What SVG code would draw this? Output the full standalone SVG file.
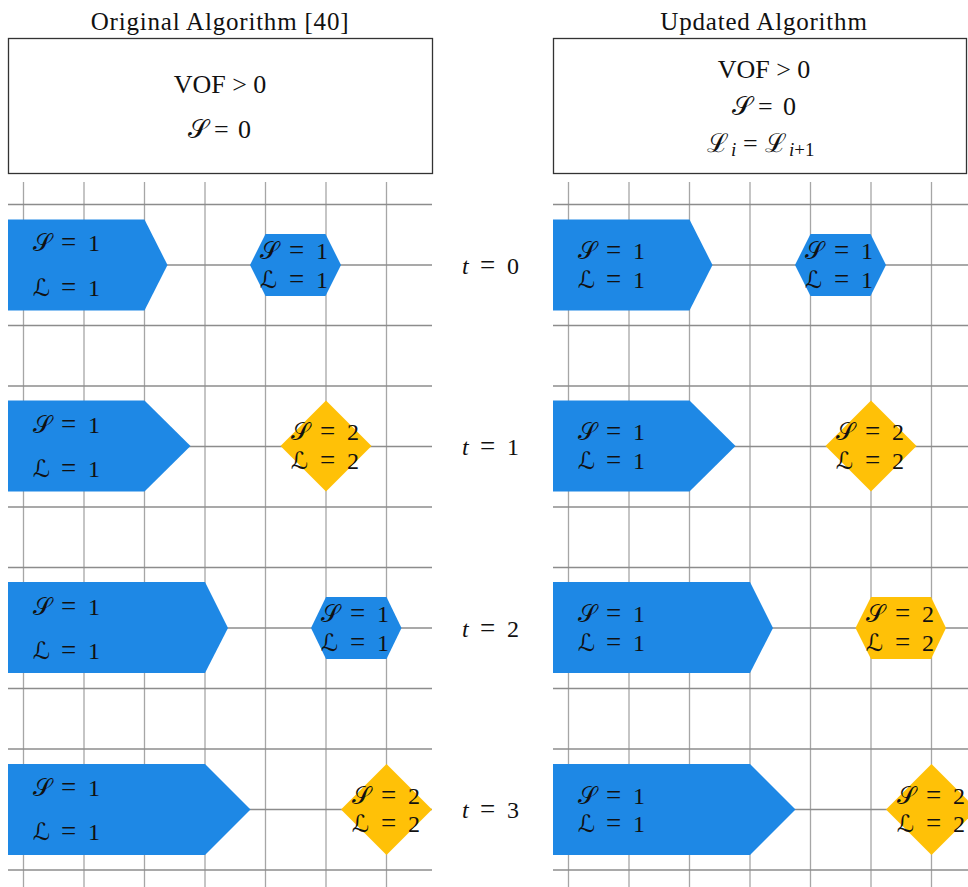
<svg xmlns="http://www.w3.org/2000/svg" width="968" height="887" viewBox="0 0 968 887">
<style>
.bg{fill:#fff}
.gv{stroke:#a6a6a6;stroke-width:1.3}
.gh{stroke:#8c8c8c;stroke-width:1.3}
.box{fill:#fff;stroke:#333;stroke-width:1.3}
.blue{fill:#1e88e5}
.amber{fill:#ffc107}
.title{font-family:"Liberation Serif","DejaVu Serif",serif;font-size:25px;letter-spacing:0.8px;fill:#111;text-anchor:middle}
.bt{font-family:"Liberation Serif","DejaVu Serif",serif;font-size:26px;fill:#111}
.m{font-family:"Liberation Serif","DejaVu Serif","DejaVu Sans",serif;font-size:24px;fill:#111}
.n{font-family:"Liberation Serif",serif}
.eq{font-family:"Liberation Serif",serif;font-size:27px}
.t{font-family:"Liberation Serif","DejaVu Serif",serif;font-size:24px;fill:#111}
</style>
<rect class="bg" x="0" y="0" width="968" height="887"/>

<g id="titles">
<text class="title" x="220" y="29.5">Original Algorithm [40]</text>
<text class="title" x="764" y="29.5">Updated Algorithm</text>
</g>

<g id="box-original">
<rect class="box" x="8.5" y="38.5" width="424" height="135"/>
<text class="bt" x="220" y="93" text-anchor="middle">VOF &gt; 0</text>
<text class="bt" y="138"><tspan x="188">𝒮</tspan><tspan class="n" x="214">=</tspan><tspan class="n" x="238">0</tspan></text>
</g>
<g id="box-updated">
<rect class="box" x="553.5" y="38.5" width="413" height="135"/>
<text class="bt" x="764" y="78" text-anchor="middle">VOF &gt; 0</text>
<text class="bt" y="115"><tspan x="732">𝒮</tspan><tspan class="n" x="758">=</tspan><tspan class="n" x="783">0</tspan></text>
<text class="bt" y="152"><tspan x="707">ℒ</tspan><tspan class="n" font-style="italic" font-size="19" x="731" dy="4">i</tspan><tspan class="n" x="743" dy="-4">=</tspan><tspan x="765">ℒ</tspan><tspan class="n" font-size="19" x="789" dy="4"><tspan font-style="italic">i</tspan>+1</tspan></text>
</g>

<g id="grid">
<g id="grid-left-vertical">
<line class="gv" x1="23.5" y1="182" x2="23.5" y2="887"/>
<line class="gv" x1="84" y1="182" x2="84" y2="887"/>
<line class="gv" x1="144.5" y1="182" x2="144.5" y2="887"/>
<line class="gv" x1="205" y1="182" x2="205" y2="887"/>
<line class="gv" x1="265.5" y1="182" x2="265.5" y2="887"/>
<line class="gv" x1="326" y1="182" x2="326" y2="887"/>
<line class="gv" x1="386.5" y1="182" x2="386.5" y2="887"/>
</g>
<g id="grid-right-vertical">
<line class="gv" x1="568.5" y1="182" x2="568.5" y2="887"/>
<line class="gv" x1="629" y1="182" x2="629" y2="887"/>
<line class="gv" x1="689.5" y1="182" x2="689.5" y2="887"/>
<line class="gv" x1="750" y1="182" x2="750" y2="887"/>
<line class="gv" x1="810.5" y1="182" x2="810.5" y2="887"/>
<line class="gv" x1="871" y1="182" x2="871" y2="887"/>
<line class="gv" x1="931.5" y1="182" x2="931.5" y2="887"/>
</g>
<g id="grid-horizontal">
<line class="gh" x1="8" y1="204.5" x2="432" y2="204.5"/>
<line class="gh" x1="8" y1="265" x2="432" y2="265"/>
<line class="gh" x1="8" y1="325.5" x2="432" y2="325.5"/>
<line class="gh" x1="8" y1="386" x2="432" y2="386"/>
<line class="gh" x1="8" y1="446.5" x2="432" y2="446.5"/>
<line class="gh" x1="8" y1="507" x2="432" y2="507"/>
<line class="gh" x1="8" y1="567.5" x2="432" y2="567.5"/>
<line class="gh" x1="8" y1="628" x2="432" y2="628"/>
<line class="gh" x1="8" y1="688.5" x2="432" y2="688.5"/>
<line class="gh" x1="8" y1="749" x2="432" y2="749"/>
<line class="gh" x1="8" y1="809.5" x2="432" y2="809.5"/>
<line class="gh" x1="8" y1="870" x2="432" y2="870"/>
<line class="gh" x1="553" y1="204.5" x2="968" y2="204.5"/>
<line class="gh" x1="553" y1="265" x2="968" y2="265"/>
<line class="gh" x1="553" y1="325.5" x2="968" y2="325.5"/>
<line class="gh" x1="553" y1="386" x2="968" y2="386"/>
<line class="gh" x1="553" y1="446.5" x2="968" y2="446.5"/>
<line class="gh" x1="553" y1="507" x2="968" y2="507"/>
<line class="gh" x1="553" y1="567.5" x2="968" y2="567.5"/>
<line class="gh" x1="553" y1="628" x2="968" y2="628"/>
<line class="gh" x1="553" y1="688.5" x2="968" y2="688.5"/>
<line class="gh" x1="553" y1="749" x2="968" y2="749"/>
<line class="gh" x1="553" y1="809.5" x2="968" y2="809.5"/>
<line class="gh" x1="553" y1="870" x2="968" y2="870"/>
</g>
</g>

<g id="time-labels">
<text class="t" x="462" y="274"><tspan font-style="italic">t</tspan><tspan class="eq" x="480">=</tspan><tspan x="507">0</tspan></text>
<text class="t" x="462" y="455"><tspan font-style="italic">t</tspan><tspan class="eq" x="480">=</tspan><tspan x="507">1</tspan></text>
<text class="t" x="462" y="637"><tspan font-style="italic">t</tspan><tspan class="eq" x="480">=</tspan><tspan x="507">2</tspan></text>
<text class="t" x="462" y="818"><tspan font-style="italic">t</tspan><tspan class="eq" x="480">=</tspan><tspan x="507">3</tspan></text>
</g>

<!-- Original algorithm, t=0 -->
<g id="orig-t0-liquid">
<polygon class="blue" points="8,219.5 144.5,219.5 167.5,265 144.5,310.5 8,310.5"/>
<text class="m" y="251"><tspan x="33">𝒮</tspan><tspan class="eq" x="61">=</tspan><tspan class="n" x="88">1</tspan></text>
<text class="m" y="296"><tspan x="33">ℒ</tspan><tspan class="eq" x="61">=</tspan><tspan class="n" x="88">1</tspan></text>
</g>
<g id="orig-t0-drop">
<polygon class="blue" points="250,265 265.5,234 325.5,234 341,265 325.5,296 265.5,296"/>
<text class="m" y="258.5"><tspan x="260">𝒮</tspan><tspan class="eq" x="289">=</tspan><tspan class="n" x="316">1</tspan></text>
<text class="m" y="287.5"><tspan x="260">ℒ</tspan><tspan class="eq" x="289">=</tspan><tspan class="n" x="316">1</tspan></text>
</g>
<!-- t=1 -->
<g id="orig-t1-liquid">
<polygon class="blue" points="8,400.5 144.5,400.5 190.5,446 144.5,491.5 8,491.5"/>
<text class="m" y="432.5"><tspan x="33">𝒮</tspan><tspan class="eq" x="61">=</tspan><tspan class="n" x="88">1</tspan></text>
<text class="m" y="476.5"><tspan x="33">ℒ</tspan><tspan class="eq" x="61">=</tspan><tspan class="n" x="88">1</tspan></text>
</g>
<g id="orig-t1-drop">
<polygon class="amber" points="326,400.5 371.5,446 326,491.5 280.5,446"/>
<text class="m" y="439.5"><tspan x="291">𝒮</tspan><tspan class="eq" x="320">=</tspan><tspan class="n" x="347">2</tspan></text>
<text class="m" y="469"><tspan x="291">ℒ</tspan><tspan class="eq" x="320">=</tspan><tspan class="n" x="347">2</tspan></text>
</g>
<!-- t=2 -->
<g id="orig-t2-liquid">
<polygon class="blue" points="8,582 205,582 228,628 205,673 8,673"/>
<text class="m" y="614.5"><tspan x="33">𝒮</tspan><tspan class="eq" x="61">=</tspan><tspan class="n" x="88">1</tspan></text>
<text class="m" y="658.5"><tspan x="33">ℒ</tspan><tspan class="eq" x="61">=</tspan><tspan class="n" x="88">1</tspan></text>
</g>
<g id="orig-t2-drop">
<polygon class="blue" points="311,628 326,597 386.5,597 401.5,628 386.5,659 326,659"/>
<text class="m" y="621.5"><tspan x="321">𝒮</tspan><tspan class="eq" x="350">=</tspan><tspan class="n" x="377">1</tspan></text>
<text class="m" y="650.5"><tspan x="321">ℒ</tspan><tspan class="eq" x="350">=</tspan><tspan class="n" x="377">1</tspan></text>
</g>
<!-- t=3 -->
<g id="orig-t3-liquid">
<polygon class="blue" points="8,764 205,764 250.5,809.5 205,855 8,855"/>
<text class="m" y="795.5"><tspan x="33">𝒮</tspan><tspan class="eq" x="61">=</tspan><tspan class="n" x="88">1</tspan></text>
<text class="m" y="839.5"><tspan x="33">ℒ</tspan><tspan class="eq" x="61">=</tspan><tspan class="n" x="88">1</tspan></text>
</g>
<g id="orig-t3-drop">
<polygon class="amber" points="386.5,764 432,809.5 386.5,855 341,809.5"/>
<text class="m" y="803.5"><tspan x="352">𝒮</tspan><tspan class="eq" x="381">=</tspan><tspan class="n" x="408">2</tspan></text>
<text class="m" y="832"><tspan x="352">ℒ</tspan><tspan class="eq" x="381">=</tspan><tspan class="n" x="408">2</tspan></text>
</g>

<!-- Updated algorithm, t=0 -->
<g id="upd-t0-liquid">
<polygon class="blue" points="553,219.5 689.5,219.5 712.5,265 689.5,310.5 553,310.5"/>
<text class="m" y="258.5"><tspan x="578">𝒮</tspan><tspan class="eq" x="606">=</tspan><tspan class="n" x="633">1</tspan></text>
<text class="m" y="287.5"><tspan x="578">ℒ</tspan><tspan class="eq" x="606">=</tspan><tspan class="n" x="633">1</tspan></text>
</g>
<g id="upd-t0-drop">
<polygon class="blue" points="795,265 810.5,234 870.5,234 886,265 870.5,296 810.5,296"/>
<text class="m" y="258.5"><tspan x="805">𝒮</tspan><tspan class="eq" x="834">=</tspan><tspan class="n" x="861">1</tspan></text>
<text class="m" y="287.5"><tspan x="805">ℒ</tspan><tspan class="eq" x="834">=</tspan><tspan class="n" x="861">1</tspan></text>
</g>
<!-- t=1 -->
<g id="upd-t1-liquid">
<polygon class="blue" points="553,400.5 689.5,400.5 735.5,446 689.5,491.5 553,491.5"/>
<text class="m" y="439.5"><tspan x="578">𝒮</tspan><tspan class="eq" x="606">=</tspan><tspan class="n" x="633">1</tspan></text>
<text class="m" y="469"><tspan x="578">ℒ</tspan><tspan class="eq" x="606">=</tspan><tspan class="n" x="633">1</tspan></text>
</g>
<g id="upd-t1-drop">
<polygon class="amber" points="871,400.5 916.5,446 871,491.5 825.5,446"/>
<text class="m" y="439.5"><tspan x="836">𝒮</tspan><tspan class="eq" x="865">=</tspan><tspan class="n" x="892">2</tspan></text>
<text class="m" y="469"><tspan x="836">ℒ</tspan><tspan class="eq" x="865">=</tspan><tspan class="n" x="892">2</tspan></text>
</g>
<!-- t=2 -->
<g id="upd-t2-liquid">
<polygon class="blue" points="553,582 750,582 773,628 750,673 553,673"/>
<text class="m" y="621.5"><tspan x="578">𝒮</tspan><tspan class="eq" x="606">=</tspan><tspan class="n" x="633">1</tspan></text>
<text class="m" y="650.5"><tspan x="578">ℒ</tspan><tspan class="eq" x="606">=</tspan><tspan class="n" x="633">1</tspan></text>
</g>
<g id="upd-t2-drop">
<polygon class="amber" points="855.5,628 871,597 931,597 946,628 931,659 871,659"/>
<text class="m" y="621.5"><tspan x="866">𝒮</tspan><tspan class="eq" x="895">=</tspan><tspan class="n" x="922">2</tspan></text>
<text class="m" y="650.5"><tspan x="866">ℒ</tspan><tspan class="eq" x="895">=</tspan><tspan class="n" x="922">2</tspan></text>
</g>
<!-- t=3 -->
<g id="upd-t3-liquid">
<polygon class="blue" points="553,764 750,764 795.5,809.5 750,855 553,855"/>
<text class="m" y="803.5"><tspan x="578">𝒮</tspan><tspan class="eq" x="606">=</tspan><tspan class="n" x="633">1</tspan></text>
<text class="m" y="832"><tspan x="578">ℒ</tspan><tspan class="eq" x="606">=</tspan><tspan class="n" x="633">1</tspan></text>
</g>
<g id="upd-t3-drop">
<polygon class="amber" points="931.5,764 977,809.5 931.5,855 886,809.5"/>
<text class="m" y="803.5"><tspan x="897">𝒮</tspan><tspan class="eq" x="926">=</tspan><tspan class="n" x="953">2</tspan></text>
<text class="m" y="832"><tspan x="897">ℒ</tspan><tspan class="eq" x="926">=</tspan><tspan class="n" x="953">2</tspan></text>
</g>
</svg>
